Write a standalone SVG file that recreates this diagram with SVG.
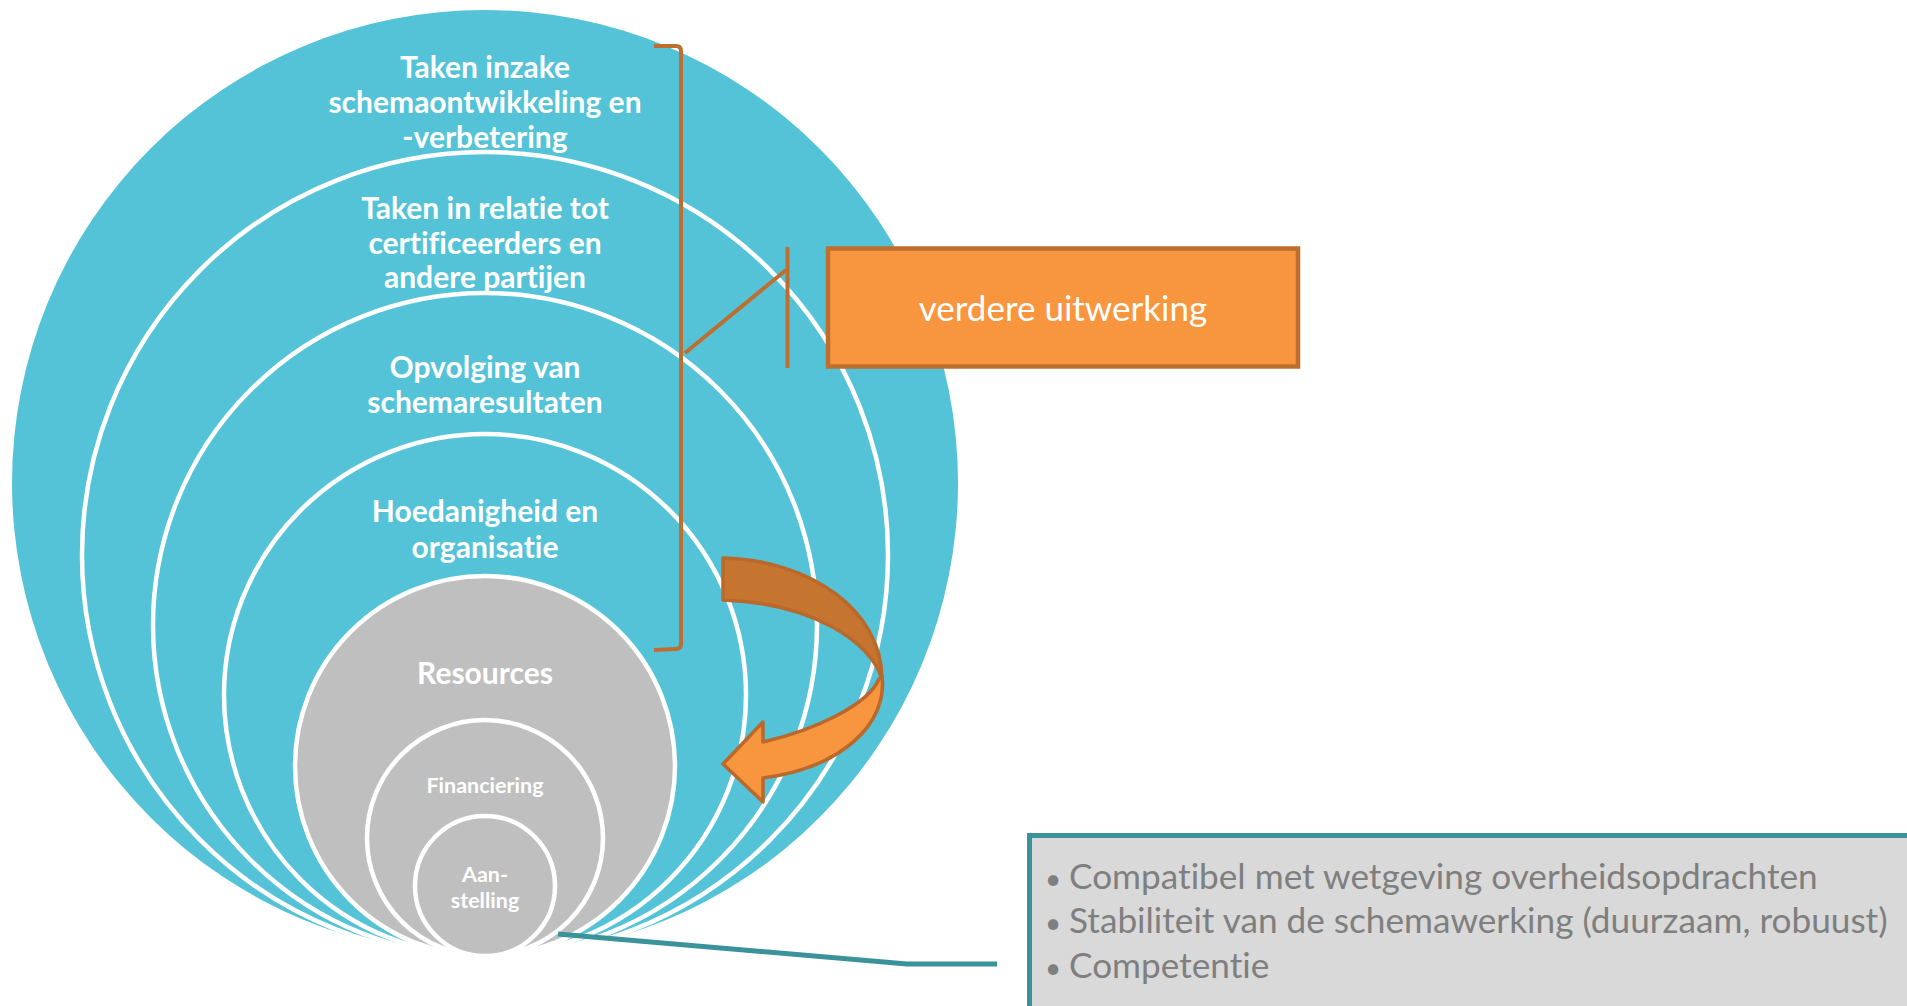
<svg xmlns="http://www.w3.org/2000/svg" width="1907" height="1006" viewBox="0 0 1907 1006">
<style>
text{font-variant-ligatures:none;font-feature-settings:"liga" 0,"clig" 0}
.ring{fill:#54C3D7;stroke:#FFFFFF;stroke-width:4.5}
.core{fill:#BFBFBF;stroke:#FFFFFF;stroke-width:4.5}
.lbl{font-family:Lato,"Liberation Sans",sans-serif;font-weight:bold;fill:#FFFFFF;text-anchor:middle}
.big{font-size:30px}
.small{font-size:21.5px}
.brown{fill:none;stroke:#BE6F30;stroke-width:4;stroke-linejoin:round}
.teal{fill:none;stroke:#3A929A;stroke-width:5}
.bul{font-family:Lato,"Liberation Sans",sans-serif;font-size:35.2px;fill:#7F7F7F}
.dot{font-size:28px}
</style>
<rect width="1907" height="1006" fill="#FFFFFF"/>
<g id="circle-taken-schema">
<circle cx="485" cy="483" r="473" fill="#54C3D7"/>
<text class="lbl big" x="485" y="78">Taken inzake</text>
<text class="lbl big" x="485" y="113">schemaontwikkeling en</text>
<text class="lbl big" x="485" y="148">-verbetering</text>
</g>
<g id="circle-taken-relatie">
<circle class="ring" cx="485" cy="555" r="403"/>
<text class="lbl big" x="485" y="219">Taken in relatie tot</text>
<text class="lbl big" x="485" y="254">certificeerders en</text>
<text class="lbl big" x="485" y="288">andere partijen</text>
</g>
<g id="circle-opvolging">
<circle class="ring" cx="485" cy="625" r="332"/>
<text class="lbl big" x="485" y="378">Opvolging van</text>
<text class="lbl big" x="485" y="413">schemaresultaten</text>
</g>
<g id="circle-hoedanigheid">
<circle class="ring" cx="485" cy="695" r="261"/>
<text class="lbl big" x="485" y="522">Hoedanigheid en</text>
<text class="lbl big" x="485" y="558">organisatie</text>
</g>
<g id="circle-resources">
<circle class="core" cx="485" cy="766" r="190"/>
<text class="lbl big" x="485" y="684">Resources</text>
</g>
<g id="circle-financiering">
<circle class="core" cx="485" cy="838" r="118"/>
<text class="lbl small" x="485" y="793">Financiering</text>
</g>
<g id="circle-aanstelling">
<circle class="core" cx="485" cy="886" r="70"/>
<text class="lbl small" x="485" y="882">Aan-</text>
<text class="lbl small" x="485" y="908">stelling</text>
</g>
<g id="box-verdere-uitwerking">
<rect x="828" y="248.5" width="470" height="118" fill="#F7963E" stroke="#BE6E2D" stroke-width="4.5"/>
<text x="1063" y="321" font-family="Lato,'Liberation Sans',sans-serif" font-size="35px" fill="#FFFFFF" text-anchor="middle">verdere uitwerking</text>
</g>
<g id="box-criteria">
<rect x="1029.5" y="835.5" width="890" height="200" fill="#D9D9D9" stroke="#3A929A" stroke-width="5"/>
<text class="bul" x="1045" y="889"><tspan class="dot">•</tspan><tspan x="1069">Compatibel met wetgeving overheidsopdrachten</tspan></text>
<text class="bul" x="1045" y="933"><tspan class="dot">•</tspan><tspan x="1069">Stabiliteit van de schemawerking (duurzaam, robuust)</tspan></text>
<text class="bul" x="1045" y="978"><tspan class="dot">•</tspan><tspan x="1069">Competentie</tspan></text>
</g>
<g id="connectors">
<path class="brown" d="M654,46 L676,46 Q681,46 681,51 L681,644 Q681,649 676,649 L654,650"/>
<path class="brown" d="M685,353 L786,270"/>
<path class="brown" d="M787.5,247 L787.5,368"/>
<path class="teal" d="M558,934 L907,964 L997,964"/>
<g id="curved-arrow" stroke="#BA682B" stroke-width="3.5" stroke-linejoin="round">
<path fill="#C5752F" d="M723,558 C810,560 882,610 882,679 C870,640 810,603 723,600 Z"/>
<path fill="#F7963E" d="M882,676 C888,725 840,768 763,778 L763,802 L723,764 L763,722 L763,742 C815,730 868,705 879,679 Z"/>
</g>
</g>
</svg>
